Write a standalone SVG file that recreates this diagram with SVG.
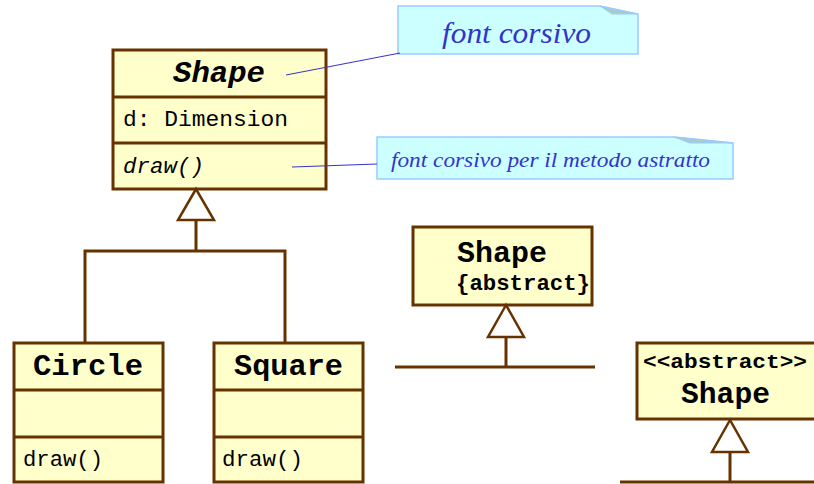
<svg xmlns="http://www.w3.org/2000/svg" width="814" height="484" viewBox="0 0 814 484">
<style>
.box{fill:#ffffcc;stroke:#663300;stroke-width:3}
.div{stroke:#663300;stroke-width:3;fill:none}
.ln{stroke:#663300;stroke-width:3;fill:none}
.tri{fill:#ffffff;stroke:#663300;stroke-width:2.5}
.mono{font-family:"Liberation Mono","Courier New",monospace;fill:#000}
.b{font-weight:bold}
.i{font-style:italic}
.note{fill:#ccffff;stroke:#99ccff;stroke-width:1.5}
.fold{fill:#a8cccc;stroke:#99ccff;stroke-width:1}
.nt{font-family:"Liberation Serif","Times New Roman",serif;font-style:italic;fill:#3333cc}
.nl{stroke:#3333cc;stroke-width:1;fill:none}
</style>
<rect width="814" height="484" fill="#ffffff"/>
<g id="shape-main">
<rect class="box" x="113" y="50" width="213" height="139"/>
<line class="div" x1="113" y1="97" x2="326" y2="97"/>
<line class="div" x1="113" y1="143" x2="326" y2="143"/>
<text class="mono b i" x="173" y="82" font-size="30" textLength="92" lengthAdjust="spacingAndGlyphs">Shape</text>
<text class="mono" x="123" y="126" font-size="22.5" textLength="165" lengthAdjust="spacingAndGlyphs">d: Dimension</text>
<text class="mono i" x="123" y="173" font-size="22.5" textLength="81" lengthAdjust="spacingAndGlyphs">draw()</text>
</g>
<g id="circle">
<rect class="box" x="14" y="343" width="149" height="139"/>
<line class="div" x1="14" y1="390" x2="163" y2="390"/>
<line class="div" x1="14" y1="437" x2="163" y2="437"/>
<text class="mono b" x="33" y="375" font-size="30" textLength="110" lengthAdjust="spacingAndGlyphs">Circle</text>
<text class="mono" x="23" y="466" font-size="22.5" textLength="80" lengthAdjust="spacingAndGlyphs">draw()</text>
</g>
<g id="square">
<rect class="box" x="214" y="343" width="149" height="139"/>
<line class="div" x1="214" y1="390" x2="363" y2="390"/>
<line class="div" x1="214" y1="437" x2="363" y2="437"/>
<text class="mono b" x="234" y="375" font-size="30" textLength="109" lengthAdjust="spacingAndGlyphs">Square</text>
<text class="mono" x="222" y="466" font-size="22.5" textLength="81" lengthAdjust="spacingAndGlyphs">draw()</text>
</g>
<g id="shape-abstract-tag">
<rect class="box" x="413" y="227" width="179" height="78"/>
<text class="mono b" x="457" y="262" font-size="30" textLength="90" lengthAdjust="spacingAndGlyphs">Shape</text>
<text class="mono b" x="456" y="290" font-size="22" textLength="134" lengthAdjust="spacingAndGlyphs">{abstract}</text>
</g>
<g id="shape-abstract-stereotype">
<rect class="box" x="637" y="343" width="180" height="76"/>
<text class="mono b" x="643" y="368" font-size="21" textLength="164" lengthAdjust="spacingAndGlyphs">&lt;&lt;abstract&gt;&gt;</text>
<text class="mono b" x="681" y="403" font-size="30" textLength="89" lengthAdjust="spacingAndGlyphs">Shape</text>
</g>
<g id="note-font-corsivo">
<polygon class="note" points="398,6 600,6 638,14 638,54 398,54"/>
<polygon class="fold" points="600,6 638,14 612,14"/>
<text class="nt" x="442" y="43" font-size="29" textLength="149" lengthAdjust="spacingAndGlyphs">font corsivo</text>
</g>
<g id="note-metodo-astratto">
<polygon class="note" points="377,137 674,137 733,143 733,179 377,179"/>
<polygon class="fold" points="674,137 733,143 690,143"/>
<text class="nt" x="391" y="167" font-size="22" textLength="319" lengthAdjust="spacingAndGlyphs">font corsivo per il metodo astratto</text>
</g>
<g id="connectors">
<polygon class="tri" points="196,189 178,220 214,220"/>
<polyline class="ln" points="196,220 196,251"/>
<polyline class="ln" points="85,343 85,251 285,251 285,343"/>
<polygon class="tri" points="506,305 488,337 524,337"/>
<line class="ln" x1="506" y1="337" x2="506" y2="367"/>
<line class="ln" x1="395" y1="367" x2="595" y2="367"/>
<polygon class="tri" points="730,420 712,452 748,452"/>
<line class="ln" x1="730" y1="452" x2="730" y2="482"/>
<line class="ln" x1="620" y1="482" x2="814" y2="482"/>
<line class="nl" x1="286" y1="75" x2="400" y2="53"/>
<line class="nl" x1="292" y1="167" x2="377" y2="164"/>
</g>
</svg>
